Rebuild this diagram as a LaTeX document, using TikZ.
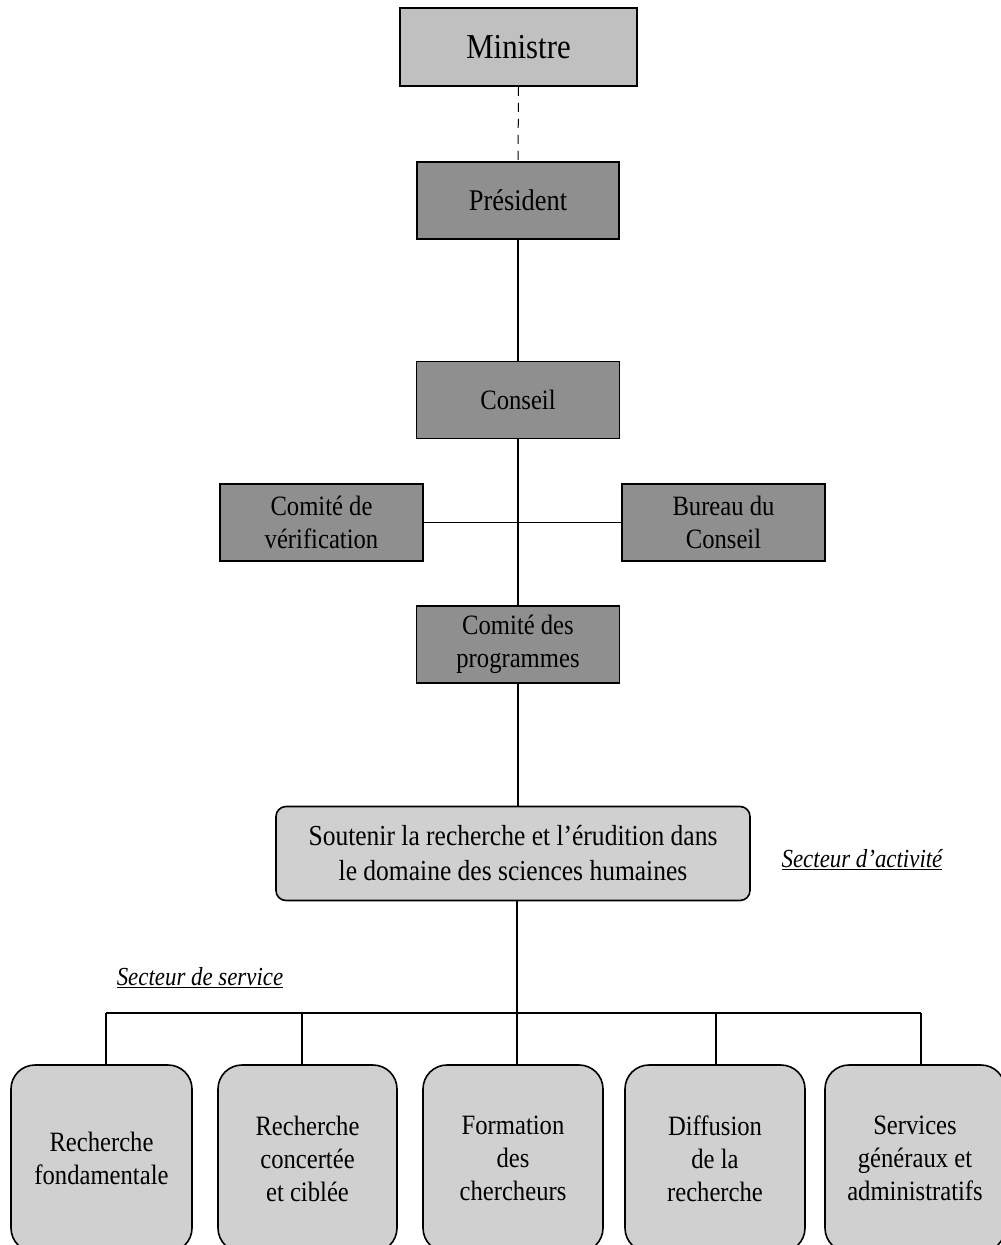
\documentclass[tikz,border=0pt]{standalone}
\usepackage{fontspec}
\setmainfont{Liberation Serif}[FakeStretch=0.88]
\definecolor{ltgray}{RGB}{192,192,192}
\definecolor{dkgray}{RGB}{143,143,143}
\definecolor{pale}{RGB}{208,208,208}
\begin{document}
\begin{tikzpicture}[x=1pt,y=-1pt,
  box/.style={draw=black, line width=1.6pt, inner sep=0pt, align=center},
  darkbox/.style={box, fill=dkgray, minimum width=203pt, minimum height=77pt, font=\fontsize{28}{33}\selectfont},
  roundbox/.style={box, fill=pale, rounded corners=24pt, minimum width=181pt, minimum height=187pt, font=\fontsize{28}{33}\selectfont},
  conn/.style={line width=1.3pt},
  tag/.style={inner sep=0pt, font=\fontsize{26}{30}\selectfont\itshape}]
\useasboundingbox (0,0) rectangle (1001,1245);
\clip (0,0) rectangle (1001,1245);
\node[box, fill=ltgray, minimum width=237pt, minimum height=78pt, font=\fontsize{35}{40}\selectfont] (min) at (518.5,47) {Ministre};
\node[darkbox, minimum width=202pt, font=\fontsize{30}{35}\selectfont] (pres) at (518,200.5) {Président};
\node[darkbox] (cons) at (518,400) {Conseil};
\node[darkbox] (verif) at (321.5,522.5) {Comité de\\vérification};
\node[darkbox] (bur) at (723.5,522.5) {Bureau du\\Conseil};
\node[darkbox] (prog) at (518,644.5) {Comité des\\programmes};
\node[box, fill=pale, rounded corners=10pt, minimum width=474pt, minimum height=94pt, font=\fontsize{29}{35}\selectfont] (sout) at (513,853.5) {Soutenir la recherche et l’érudition dans\\le domaine des sciences humaines};
\node[tag] (act) at (862,860) {\underline{Secteur d’activité}};
\node[tag] (serv) at (200,978) {\underline{Secteur de service}};
\node[roundbox] (b1) at (101.5,1158.5) {Recherche\\fondamentale};
\node[roundbox, minimum width=179pt] (b2) at (307.5,1158.5) {Recherche\\concertée\\et ciblée};
\node[roundbox, minimum width=180pt] (b3) at (513,1158.5) {Formation\\des\\chercheurs};
\node[roundbox, minimum width=180pt] (b4) at (715,1158.5) {Diffusion\\de la\\recherche};
\node[roundbox, minimum width=180pt] (b5) at (915,1158.5) {Services\\généraux et\\administratifs};
\coordinate (busL) at (106,1013);
\coordinate (bus2) at (302,1013);
\coordinate (busM) at (517,1013);
\coordinate (bus4) at (716,1013);
\coordinate (busR) at (921,1013);
\draw[line width=1pt, dash pattern=on 9pt off 7pt] (min.south) -- (pres.north);
\draw[conn] (pres.south) -- (cons.north);
\draw[conn] (cons.south) -- (prog.north);
\draw[conn] (verif.east) -- (bur.west);
\draw[conn] (prog.south) -- (prog.south |- sout.north);
\draw[conn] (busM |- sout.south) -- (busM);
\draw[conn] (busL) -- (busR);
\draw[conn] (busL) -- (busL |- b1.north);
\draw[conn] (bus2) -- (bus2 |- b2.north);
\draw[conn] (busM) -- (busM |- b3.north);
\draw[conn] (bus4) -- (bus4 |- b4.north);
\draw[conn] (busR) -- (busR |- b5.north);
\end{tikzpicture}
\end{document}
